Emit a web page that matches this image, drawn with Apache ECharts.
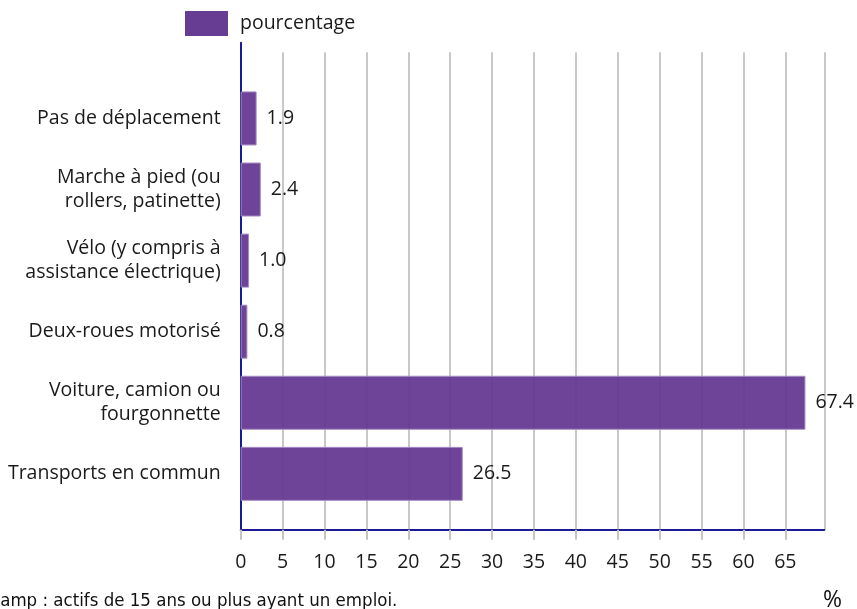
<!DOCTYPE html>
<html>
<head>
<meta charset="utf-8">
<script src="https://cdn.jsdelivr.net/npm/echarts@6/dist/echarts.min.js"></script>
<style>html,body{margin:0;padding:0;background:#fff}#c{width:857px;height:609px}</style>
</head>
<body>
<div id="c"></div>
<script>
var categories = [
  "Pas de déplacement",
  "Marche à pied (ou\nrollers, patinette)",
  "Vélo (y compris à\nassistance électrique)",
  "Deux-roues motorisé",
  "Voiture, camion ou\nfourgonnette",
  "Transports en commun"
];
var values = [1.9, 2.4, 1.0, 0.8, 67.4, 26.5];
var seriesName = "pourcentage";
var xTicks = [0, 5, 10, 15, 20, 25, 30, 35, 40, 45, 50, 55, 60, 65];
var footnote = "Champ : actifs de 15 ans ou plus ayant un emploi.";
var unitLabel = "%";

var XMAX = 69.65;
var FONT = "'Open Sans', 'Noto Sans', sans-serif";
var FS = 19.5;
var LEFT = 240.7, RIGHT = 857 - 824.3;

var chart = echarts.init(document.getElementById('c'), null, {renderer: 'canvas'});
chart.setOption({
  animation: false,
  backgroundColor: '#ffffff',
  legend: {
    data: [seriesName],
    left: 185, top: 11,
    itemWidth: 43, itemHeight: 25, itemGap: 10,
    icon: 'rect',
    itemStyle: {borderWidth: 0, color: '#673d93'},
    textStyle: {fontFamily: FONT, fontSize: FS, color: '#1a1a1a', padding: [0, 0, 0, 7]},
    padding: 0
  },
  grid: [
    {left: LEFT, right: RIGHT, top: 42.7, bottom: 79.3},
    {left: LEFT, right: RIGHT, top: 52.3, bottom: 79.3},
    {left: LEFT, right: RIGHT, top: 82.9, bottom: 99.6}
  ],
  xAxis: [
    {gridIndex: 0, type: 'value', min: 0, max: XMAX, show: false},
    {gridIndex: 1, type: 'value', min: 0, max: XMAX, interval: 5,
      axisLine: {show: true, lineStyle: {color: '#1a1a96', width: 2}},
      axisTick: {show: true, length: 10, lineStyle: {color: '#c4c4c4', width: 2}},
      axisLabel: {fontFamily: FONT, fontSize: FS, color: '#1a1a1a', margin: 23,
        showMaxLabel: false,
        formatter: function (v) { return xTicks.indexOf(v) >= 0 ? String(v) : ''; }},
      splitLine: {show: true, lineStyle: {color: '#c8c8c8', width: 2}}
    },
    {gridIndex: 2, type: 'value', min: 0, max: XMAX, show: false}
  ],
  yAxis: [
    {gridIndex: 0, type: 'value', min: 0, max: 1,
      axisLine: {show: true, lineStyle: {color: '#1a1a96', width: 2}},
      axisTick: {show: false}, axisLabel: {show: false}, splitLine: {show: false}},
    {gridIndex: 1, type: 'value', show: false},
    {gridIndex: 2, type: 'category', data: categories, inverse: true,
      axisLine: {show: false}, axisTick: {show: false}, splitLine: {show: false},
      axisLabel: {fontFamily: FONT, fontSize: FS, color: '#1a1a1a', margin: 20,
        lineHeight: 24, align: 'right'}}
  ],
  series: [{
    name: seriesName,
    type: 'bar',
    xAxisIndex: 2, yAxisIndex: 2,
    data: values,
    barWidth: 54,
    z: 1,
    itemStyle: {color: 'rgba(100,56,146,0.94)', borderColor: '#a58cc4', borderWidth: 1},
    label: {show: true, position: 'right', distance: 10,
      fontFamily: FONT, fontSize: FS, color: '#1a1a1a',
      formatter: function (p) { return p.value.toFixed(1); }}
  }],
  graphic: [
    {type: 'text', left: -22, top: 592, z: 10,
      style: {text: footnote, fontFamily: "'Liberation Sans Narrow', 'DejaVu Sans Condensed', sans-serif", fontSize: 18.5, fill: '#111'}},
    {type: 'text', left: 823, top: 589, z: 10,
      style: {text: unitLabel, fontFamily: FONT, fontSize: 23, fill: '#111'}}
  ]
});
</script>
</body>
</html>
